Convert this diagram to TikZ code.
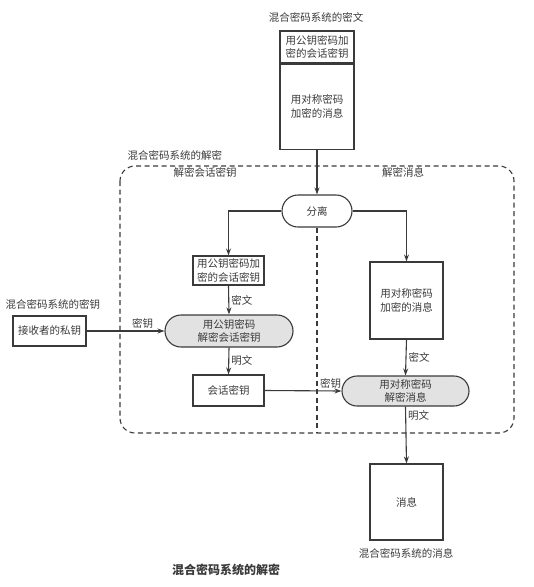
\documentclass[tikz,border=0pt]{standalone}
\usepackage{fontspec}
\setmainfont{Noto Sans CJK SC}
\usetikzlibrary{arrows.meta,shapes.misc}
\definecolor{ink}{HTML}{3A3A3A}
\definecolor{pillgray}{HTML}{E2E2E2}
\begin{document}
\begin{tikzpicture}[x=1pt,y=-1pt,
  font=\fontsize{10.5}{13.5}\selectfont, text=ink,
  box/.style={draw=ink, line width=1.1pt, inner sep=0pt, align=center},
  pill/.style={draw=ink, line width=1.1pt, inner sep=0pt, align=center, rounded rectangle, fill=pillgray},
  arr/.style={draw=ink, line width=1.1pt, -{Stealth[length=7pt,width=5pt]}},
  dashline/.style={draw=ink, line width=1.1pt, dash pattern=on 5pt off 3.5pt},
  lbl/.style={inner sep=2pt}]
\useasboundingbox (0,0) rectangle (534,587);
% top ciphertext
\node (toplbl) at (316,17) {混合密码系统的密文};
\node[box, minimum width=74pt, minimum height=32pt] (top1) at (317,47) {用公钥密码加\\密的会话密钥};
\node[box, minimum width=74pt, minimum height=85pt, anchor=north] (top2) at (top1.south) {用对称密码\\加密的消息};
% dashed region
\node[anchor=west] (reglbl) at (124,155) {混合密码系统的解密};
\draw[dashline, rounded corners=15pt] (120,166) rectangle (514,433);
\node (lhead) at (205,172) {解密会话密钥};
\node (rhead) at (403,172) {解密消息};
\node[pill, fill=white, minimum width=70pt, minimum height=32pt] (fenli) at (317,211) {分离};
\coordinate (divbot) at (317,433);
\draw[dashline] (fenli.south) -- (divbot);
% left column
\node[box, minimum width=71pt, minimum height=29pt] (pkbox) at (228.5,270.5) {用公钥密码加\\密的会话密钥};
\node[pill, minimum width=128pt, minimum height=32pt] (pkdec) at (229,331) {用公钥密码\\解密会话密钥};
\node[box, minimum width=71pt, minimum height=31pt] (skey) at (228.5,390.5) {会话密钥};
% private key
\node[anchor=west] (privlbl) at (2,304) {混合密码系统的密钥};
\node[box, minimum width=73pt, minimum height=30pt] (priv) at (49.5,331) {接收者的私钥};
% right column
\node[box, minimum width=73pt, minimum height=77pt] (symbox) at (406.5,300.5) {用对称密码\\加密的消息};
\node[pill, minimum width=127pt, minimum height=30pt] (symdec) at (405.5,391) {用对称密码\\解密消息};
\node[box, minimum width=73pt, minimum height=76pt] (msg) at (406.5,502) {消息};
\node (msglbl) at (406,553) {混合密码系统的消息};
% caption
\node (caption) at (226,570) {\fontsize{12}{14}\selectfont\bfseries 混合密码系统的解密};
% connectors
\draw[arr] (top2.south) -- (fenli.north);
\draw[arr] (fenli.west) -| (pkbox.north);
\draw[arr] (fenli.east) -| (symbox.north);
\draw[arr] (pkbox.south) -- node[lbl, right]{密文} (pkdec.north);
\draw[arr] (priv.east) -- node[lbl, above, pos=0.72]{密钥} (pkdec.west);
\draw[arr] (pkdec.south) -- node[lbl, right]{明文} (skey.north);
\draw[arr] (skey.east) -- node[lbl, above, pos=0.86]{密钥} (symdec.west);
\draw[arr] (symbox.south) -- node[lbl, right]{密文} (symdec.north);
\draw[arr] (symdec.south) -- node[lbl, right, pos=0.15]{明文} (msg.north);
\end{tikzpicture}
\end{document}
